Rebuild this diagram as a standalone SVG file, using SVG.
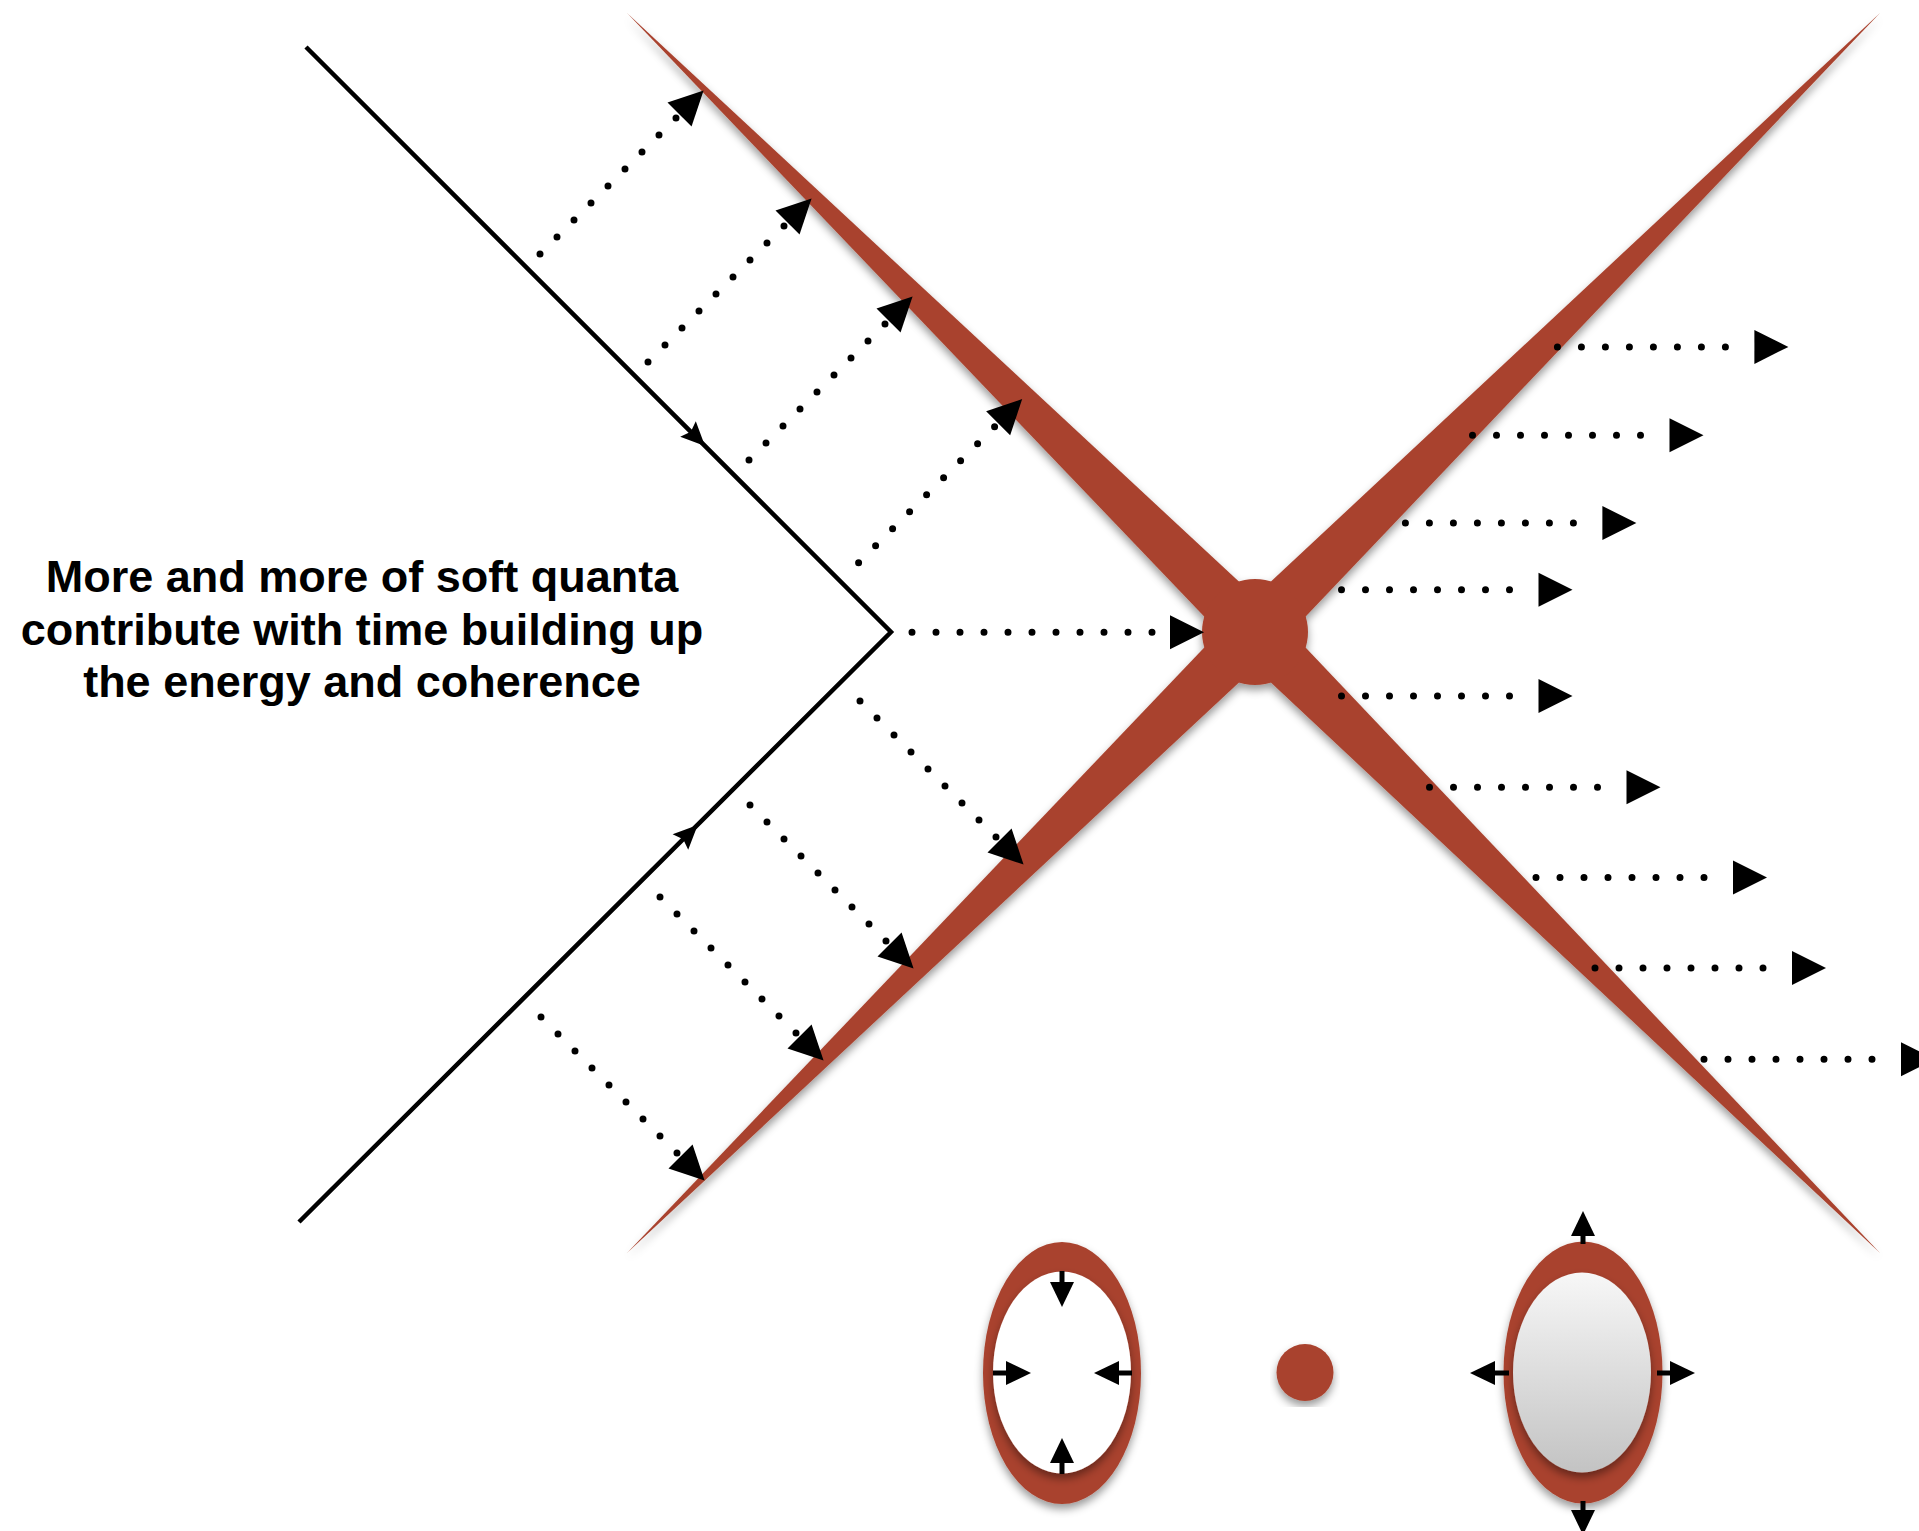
<svg xmlns="http://www.w3.org/2000/svg" width="1919" height="1531" viewBox="0 0 1919 1531">
  <style>
    .red { fill: #A9432F; }
    .wl { fill: none; stroke: #000; stroke-width: 4.5; stroke-linejoin: miter; }
    .dot { fill: none; stroke: #000; stroke-width: 7; stroke-linecap: round; stroke-dasharray: 0 24.04; }
    .dot24 { fill: none; stroke: #000; stroke-width: 7; stroke-linecap: round; stroke-dasharray: 0 24; }
    .sa { fill: none; stroke: #000; stroke-width: 5; }
    .lbl { font-family: "Liberation Sans", Arial, Helvetica, sans-serif; font-weight: bold; font-size: 45px; fill: #000; }
  </style>
  <defs>
    <filter id="sh" x="-10%" y="-10%" width="120%" height="120%">
      <feDropShadow dx="0" dy="5" stdDeviation="4" flood-color="#000" flood-opacity="0.4"/>
    </filter>
    <linearGradient id="gray" x1="0" y1="0" x2="0" y2="1">
      <stop offset="0" stop-color="#F7F7F7"/>
      <stop offset="1" stop-color="#C3C3C3"/>
    </linearGradient>
    <marker id="ah" markerUnits="userSpaceOnUse" markerWidth="34" markerHeight="34" viewBox="0 0 34 34" refX="-5" refY="17" orient="auto" overflow="visible">
      <path d="M0,0 L34,17 L0,34 z" fill="#000"/>
    </marker>
    <marker id="ahc" markerUnits="userSpaceOnUse" markerWidth="34" markerHeight="34" viewBox="0 0 34 34" refX="6" refY="17" orient="auto" overflow="visible">
      <path d="M0,0 L34,17 L0,34 z" fill="#000"/>
    </marker>
    <marker id="sm" markerUnits="userSpaceOnUse" markerWidth="25" markerHeight="24" viewBox="0 0 25 24" refX="1" refY="12" orient="auto" overflow="visible">
      <path d="M0,0 L25,12 L0,24 z" fill="#000"/>
    </marker>
  </defs>

  <rect width="1919" height="1531" fill="#fff"/>

  <g id="node-x" filter="url(#sh)">
    <polygon class="red" points="627,13 1273.3,613.5 1880,1253 1236.7,650.5"/>
    <polygon class="red" points="1880,13 1273.3,650.5 627,1253 1236.7,613.5"/>
    <circle class="red" cx="1255" cy="632" r="53"/>
  </g>

  <g id="node-worldline">
    <polyline class="wl" points="306,47 891,632 299,1222"/>
    <polygon points="705,446 695.8,421.2 690.8,431.8 680.2,436.8"/>
    <polygon points="697.7,825 688.2,849.8 683.2,839.2 672.6,834.2"/>
  </g>

  <g id="node-label" class="lbl" text-anchor="middle">
    <text x="362" y="592">More and more of soft quanta</text>
    <text x="362" y="645">contribute with time building up</text>
    <text x="362" y="697">the energy and coherence</text>
  </g>

  <g id="connectors">
    <line class="dot" x1="540" y1="254" x2="676" y2="118" marker-end="url(#ah)"/>
    <line class="dot" x1="648" y1="362" x2="784" y2="226" marker-end="url(#ah)"/>
    <line class="dot" x1="749" y1="460" x2="885" y2="324" marker-end="url(#ah)"/>
    <line class="dot" x1="858.6" y1="562.7" x2="994.6" y2="426.7" marker-end="url(#ah)"/>
    <line class="dot" x1="860" y1="701" x2="996" y2="837" marker-end="url(#ah)"/>
    <line class="dot" x1="750" y1="805" x2="886" y2="941" marker-end="url(#ah)"/>
    <line class="dot" x1="660" y1="897" x2="796" y2="1033" marker-end="url(#ah)"/>
    <line class="dot" x1="541" y1="1017" x2="677" y2="1153" marker-end="url(#ah)"/>
    <line class="dot24" x1="912" y1="632.3" x2="1176" y2="632.3" marker-end="url(#ahc)"/>
    <line class="dot24" x1="1557.4" y1="346.9" x2="1749.4" y2="346.9" marker-end="url(#ah)"/>
    <line class="dot24" x1="1472.5" y1="435.2" x2="1664.5" y2="435.2" marker-end="url(#ah)"/>
    <line class="dot24" x1="1405.4" y1="523" x2="1597.4" y2="523" marker-end="url(#ah)"/>
    <line class="dot24" x1="1341.5" y1="589.8" x2="1533.5" y2="589.8" marker-end="url(#ah)"/>
    <line class="dot24" x1="1341.5" y1="695.9" x2="1533.5" y2="695.9" marker-end="url(#ah)"/>
    <line class="dot24" x1="1429.5" y1="787.2" x2="1621.5" y2="787.2" marker-end="url(#ah)"/>
    <line class="dot24" x1="1536" y1="877.6" x2="1728" y2="877.6" marker-end="url(#ah)"/>
    <line class="dot24" x1="1595" y1="967.9" x2="1787" y2="967.9" marker-end="url(#ah)"/>
    <line class="dot24" x1="1704" y1="1059.3" x2="1896" y2="1059.3" marker-end="url(#ah)"/>
  </g>

  <g id="node-contracting">
    <ellipse class="red" cx="1062" cy="1373" rx="79" ry="131" filter="url(#sh)"/>
    <ellipse cx="1062" cy="1372.5" rx="69" ry="101" fill="#fff" filter="url(#sh)"/>
    <line class="sa" x1="1062" y1="1271" x2="1062" y2="1283" marker-end="url(#sm)"/>
    <line class="sa" x1="1062" y1="1474" x2="1062" y2="1462" marker-end="url(#sm)"/>
    <line class="sa" x1="993" y1="1373" x2="1007" y2="1373" marker-end="url(#sm)"/>
    <line class="sa" x1="1132" y1="1373" x2="1118" y2="1373" marker-end="url(#sm)"/>
  </g>

  <g id="node-point">
    <circle class="red" cx="1305" cy="1372.5" r="28.5" filter="url(#sh)"/>
  </g>

  <g id="node-expanding">
    <ellipse class="red" cx="1583" cy="1372.5" rx="79.5" ry="131" filter="url(#sh)"/>
    <ellipse cx="1582" cy="1372.5" rx="69" ry="100" fill="url(#gray)" filter="url(#sh)"/>
    <line class="sa" x1="1583" y1="1244" x2="1583" y2="1235" marker-end="url(#sm)"/>
    <line class="sa" x1="1583" y1="1501" x2="1583" y2="1511" marker-end="url(#sm)"/>
    <line class="sa" x1="1509" y1="1373" x2="1494" y2="1373" marker-end="url(#sm)"/>
    <line class="sa" x1="1657" y1="1373" x2="1671" y2="1373" marker-end="url(#sm)"/>
  </g>
</svg>
